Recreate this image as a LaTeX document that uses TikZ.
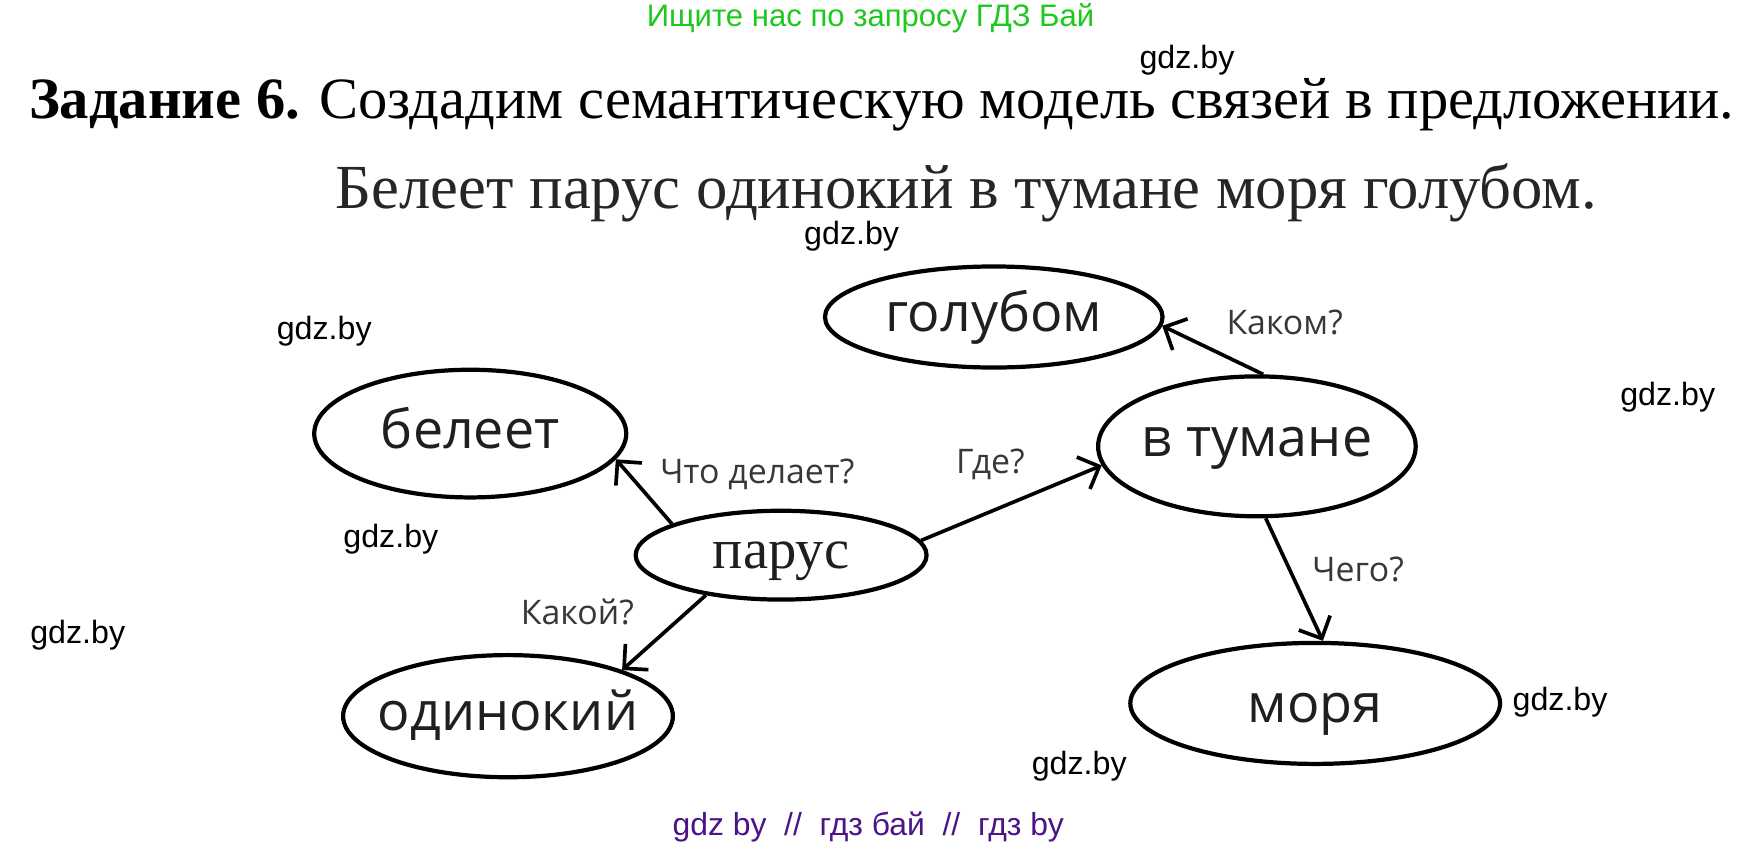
\documentclass[tikz,border=0pt]{standalone}
\usepackage{fontspec}
\setmainfont{Liberation Serif}
\newfontfamily\osans{Open Sans}
\newfontfamily\lsans{Liberation Sans}
\usetikzlibrary{shapes.geometric,arrows.meta}
\definecolor{wmgreen}{RGB}{30,200,30}
\definecolor{wmpurple}{RGB}{75,20,135}
\begin{document}
\begin{tikzpicture}[x=1pt,y=-1pt,
  oval/.style={ellipse,draw,line width=3.8pt,inner sep=0pt},
  wtext/.style={inner sep=0pt,font=\osans\fontsize{48.5}{48.5}\selectfont,text=black!88,text height=26.2pt,text depth=0pt},
  lbl/.style={inner sep=0pt,font=\osans\fontsize{30.5}{30.5}\selectfont,text=black!78},
  wm/.style={inner sep=0pt,font=\lsans\fontsize{29}{29}\selectfont},
  link/.style={line width=3.3pt,-{Straight Barb[angle=90:22pt]}}]
\useasboundingbox (0,0) rectangle (1568,765.5);
% header
\node[inner sep=0pt,font=\lsans\fontsize{28}{28}\selectfont,text=wmgreen] (top) at (784,16) {Ищите нас по запросу ГДЗ Бай};
\node[anchor=base west,inner sep=0pt,font=\fontsize{52.7}{52.7}\selectfont] (title) at (26,107) {\textbf{Задание 6.} Создадим семантическую модель связей в предложении.};
\node[anchor=base west,inner sep=0pt,font=\fontsize{56.5}{56.5}\selectfont,text=black!85] (sent) at (302,188) {Белеет парус одинокий в тумане моря голубом.};
% ellipses
\node[oval,minimum width=281pt,minimum height=115pt] (beleet) at (423.5,390.5) {};
\node[oval,minimum width=304pt,minimum height=91pt] (golubom) at (895,285.5) {};
\node[oval,minimum width=286pt,minimum height=126pt] (tumane) at (1132,402) {};
\node[oval,minimum width=262pt,minimum height=80pt] (parus) at (703.5,500) {};
\node[oval,minimum width=297pt,minimum height=110pt] (odinokiy) at (457.5,645) {};
\node[oval,minimum width=333pt,minimum height=109pt] (morya) at (1184.5,633.5) {};
\node[wtext] (tbeleet) at (beleet.center) {белеет};
\node[wtext] (tgolubom) at (golubom.center) {голубом};
\node[wtext,yshift=4pt] (ttumane) at (tumane.center) {в тумане};
\node[wtext,font=\rmfamily\fontsize{51}{51}\selectfont,text height=23.5pt] (tparus) at (parus.center) {парус};
\node[wtext] (todinokiy) at (odinokiy.center) {одинокий};
\node[wtext,yshift=-4pt] (tmorya) at (morya.center) {моря};
% connectors
\draw[link] (parus.164) -- (beleet.-10);
\draw[link] (parus.208) -- (odinokiy.22);
\draw[link] (parus.6) -- (tumane.187);
\draw[link] (tumane.85) -- (golubom.-3);
\draw[link] (tumane.-83) -- (morya.83);
% labels
\node[lbl] (l1) at (682,427) {Что делает?};
\node[lbl] (l2) at (892,418) {Где?};
\node[lbl] (l3) at (1157,290) {Каком?};
\node[lbl] (l4) at (1223,513) {Чего?};
\node[lbl] (l5) at (520,551) {Какой?};
% watermarks
\node[wm] (w1) at (1069,54) {gdz.by};
\node[wm] (w2) at (767,213) {gdz.by};
\node[wm] (w3) at (292,298) {gdz.by};
\node[wm] (w4) at (1502,358) {gdz.by};
\node[wm] (w5) at (352,486) {gdz.by};
\node[wm] (w6) at (70,572) {gdz.by};
\node[wm] (w7) at (1405,632) {gdz.by};
\node[wm] (w8) at (972,690) {gdz.by};
\node[inner sep=0pt,font=\lsans\fontsize{28.7}{28.7}\selectfont,text=wmpurple] (bottom) at (782,745) {gdz by\ \ //\ \ гдз бай\ \ //\ \ гдз by};
\end{tikzpicture}
\end{document}
